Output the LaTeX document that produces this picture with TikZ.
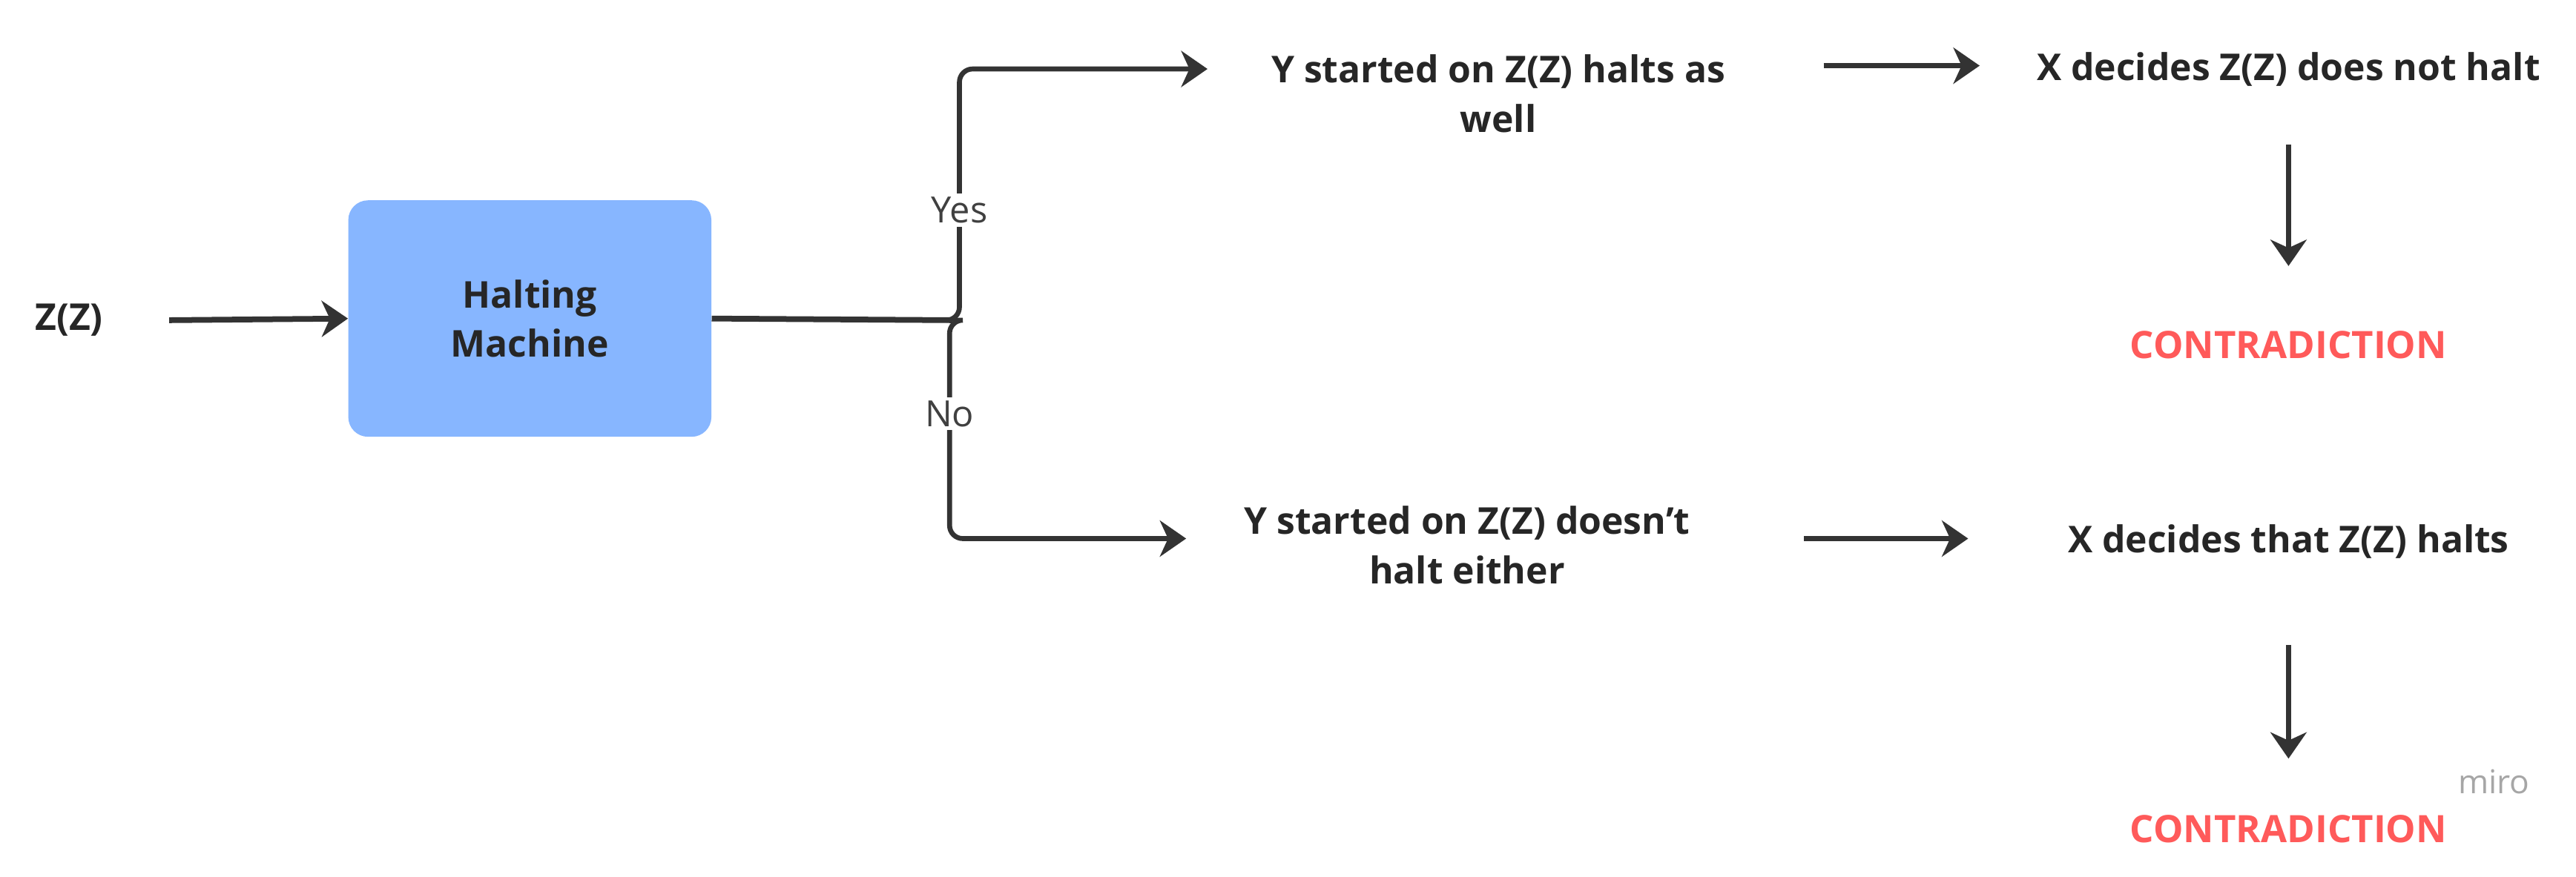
\documentclass[tikz,border=0pt]{standalone}
\usepackage{fontspec}
\setmainfont{Open Sans}
\usetikzlibrary{arrows.meta}
\begin{document}
\begin{tikzpicture}[x=1pt,y=-1pt,
  txt/.style={font=\fontsize{22.5}{30}\selectfont\bfseries, text=black!85, align=center},
  red/.style={font=\fontsize{23}{28}\selectfont\bfseries, text={rgb,255:red,255;green,90;blue,90}},
  lbl/.style={font=\fontsize{22}{26}\selectfont, text=black!75, fill=white, inner sep=2pt},
  arr/.style={draw=black!80, line width=3.5pt, -{Stealth[length=16pt,width=22pt,inset=5pt]}},
  ln/.style={draw=black!80, line width=3pt, rounded corners=8pt}]
\useasboundingbox (0,0) rectangle (1568,534);
\node[txt] (zz) at (42,195) {Z(Z)};
\node[fill={rgb,255:red,135;green,182;blue,255}, rounded corners=12pt, minimum width=221pt, minimum height=144pt, txt] (hm) at (322.5,194) {Halting\\Machine};
\coordinate (zs) at (103,195);
\draw[arr] (zs) -- (hm.west);
\coordinate (sp) at (580,195);
\coordinate (ye) at (735,42);
\coordinate (ne) at (722,328);
\draw[ln,line width=3.5pt] (hm.east) -- (sp);
\draw[ln,-{Stealth[length=16pt,width=22pt,inset=5pt]}] (sp) -- (584,195) -- (584,42) -- (ye);
\draw[ln,-{Stealth[length=16pt,width=22pt,inset=5pt]}] (sp) -- (578,195) -- (578,328) -- (ne);
\node[lbl] (yes) at (584,128) {Yes};
\node[lbl] (no) at (578,252) {No};
\node[txt] (y1) at (912,57) {Y started on Z(Z) halts as\\well};
\node[txt] (x1) at (1393,42) {X decides Z(Z) does not halt};
\node[red] (c1) at (1393,210) {CONTRADICTION};
\node[txt] (y2) at (893,332) {Y started on Z(Z) doesn't\\halt either};
\node[txt] (x2) at (1393,330) {X decides that Z(Z) halts};
\node[red] (c2) at (1393,505) {CONTRADICTION};
\coordinate (a1s) at (1110,40); \coordinate (a1e) at (1205,40);
\draw[arr] (a1s) -- (a1e);
\coordinate (a2s) at (1098,328); \coordinate (a2e) at (1198,328);
\draw[arr] (a2s) -- (a2e);
\coordinate (d1s) at (1393,88); \coordinate (d1e) at (1393,162);
\draw[arr] (d1s) -- (d1e);
\coordinate (d2s) at (1393,393); \coordinate (d2e) at (1393,462);
\draw[arr] (d2s) -- (d2e);
\node[font=\fontsize{20}{24}\selectfont, text=black!35] (miro) at (1518,476) {miro};
\end{tikzpicture}
\end{document}
